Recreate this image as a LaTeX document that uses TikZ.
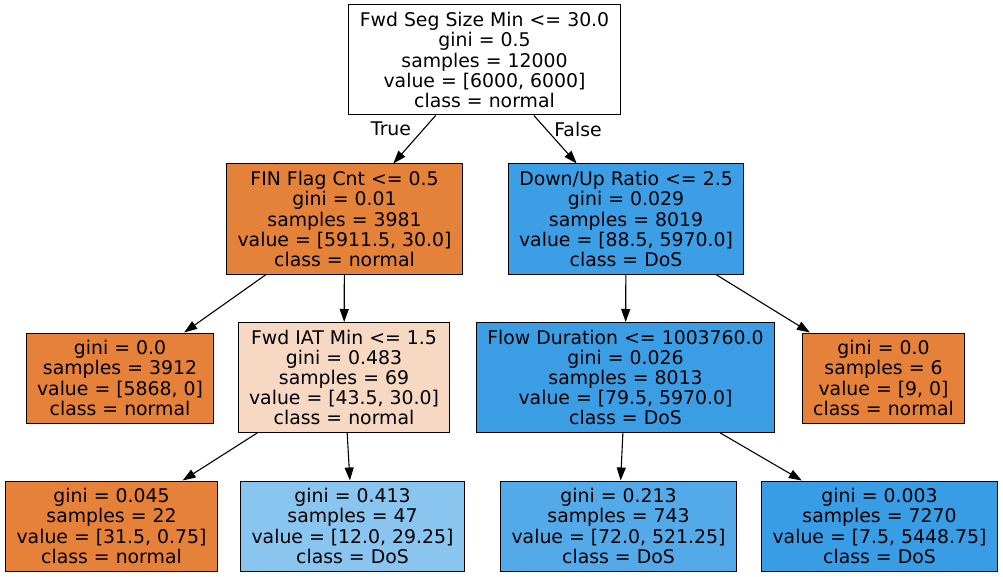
\documentclass[tikz,border=0pt]{standalone}
\usepackage{fontspec}
\setmainfont{DejaVu Sans}
\usetikzlibrary{arrows.meta}
\definecolor{normalc}{HTML}{E58139}
\definecolor{finc}{HTML}{E5823A}
\definecolor{iatc}{HTML}{F7D8C2}
\definecolor{dosc}{HTML}{3C9EE5}
\definecolor{flowc}{HTML}{3B9EE5}
\definecolor{dosa}{HTML}{8AC5F0}
\definecolor{dosb}{HTML}{54AAE9}
\definecolor{dosd}{HTML}{399DE5}

\begin{document}
\begin{tikzpicture}[x=1bp, y=-1bp,
  box/.style={draw, line width=1bp, align=center, inner xsep=11bp, inner ysep=0pt},
  split/.style={box, minimum height=110bp},
  leaf/.style={box, minimum height=90bp},
  edge/.style={-{Triangle[length=13bp,width=9bp]}, line width=1.1bp},
  lab/.style={inner sep=0pt}]

  \fontsize{18.85bp}{20.2bp}\selectfont
  \useasboundingbox (0,0) rectangle (1003,577);

  %% level 0
  \node[split, fill=white] (root) at (484.5,60)
    {Fwd Seg Size Min <= 30.0\\gini = 0.5\\samples = 12000\\value = [6000, 6000]\\class = normal};

  %% level 1
  \node[split, fill=finc] (fin) at (344.5,219)
    {FIN Flag Cnt <= 0.5\\gini = 0.01\\samples = 3981\\value = [5911.5, 30.0]\\class = normal};
  \node[split, fill=dosc] (ratio) at (626,219)
    {Down/Up Ratio <= 2.5\\gini = 0.029\\samples = 8019\\value = [88.5, 5970.0]\\class = DoS};

  %% level 2
  \node[leaf, fill=normalc] (leafa) at (120,378)
    {gini = 0.0\\samples = 3912\\value = [5868, 0]\\class = normal};
  \node[split, fill=iatc] (iat) at (344,377.5)
    {Fwd IAT Min <= 1.5\\gini = 0.483\\samples = 69\\value = [43.5, 30.0]\\class = normal};
  \node[split, fill=flowc] (flow) at (625.5,377.5)
    {Flow Duration <= 1003760.0\\gini = 0.026\\samples = 8013\\value = [79.5, 5970.0]\\class = DoS};
  \node[leaf, fill=normalc] (leafb) at (883.5,378)
    {gini = 0.0\\samples = 6\\value = [9, 0]\\class = normal};

  %% level 3
  \node[leaf, fill=normalc] (leafc) at (111.5,526)
    {gini = 0.045\\samples = 22\\value = [31.5, 0.75]\\class = normal};
  \node[leaf, fill=dosa] (leafd) at (352.5,526)
    {gini = 0.413\\samples = 47\\value = [12.0, 29.25]\\class = DoS};
  \node[leaf, fill=dosb] (leafe) at (618.5,526)
    {gini = 0.213\\samples = 743\\value = [72.0, 521.25]\\class = DoS};
  \node[leaf, fill=dosd] (leaff) at (879.5,526)
    {gini = 0.003\\samples = 7270\\value = [7.5, 5448.75]\\class = DoS};

  \draw[edge] (root) -- (fin);
  \draw[edge] (root) -- (ratio);
  \node[lab] (true) at (391,129) {True};
  \node[lab] (false) at (578,129) {False};

  \draw[edge] (fin) -- (leafa);
  \draw[edge] (fin) -- (iat);
  \draw[edge] (ratio) -- (flow);
  \draw[edge] (ratio) -- (leafb);

  \draw[edge] (iat) -- (leafc);
  \draw[edge] (iat) -- (leafd);
  \draw[edge] (flow) -- (leafe);
  \draw[edge] (flow) -- (leaff);

\end{tikzpicture}
\end{document}
